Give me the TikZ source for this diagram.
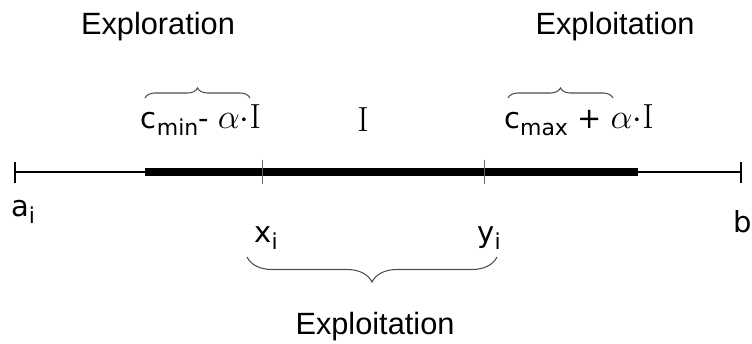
\documentclass[tikz,border=0pt]{standalone}
\usepackage{graphicx}
\usepackage[no-math]{fontspec}
\setmainfont{Liberation Sans}
\newfontfamily\labelfont{DejaVu Sans}
\newcommand{\lowsub}[1]{\raisebox{-0.45ex}{\fontsize{12.5}{12.5}\selectfont #1}}
\newcommand{\serifpart}[1]{\scalebox{1.15}{$#1$}}
\usetikzlibrary{decorations.pathreplacing, positioning}

\begin{document}
\begin{tikzpicture}[x=0.02cm, y=-0.02cm,
    every node/.style={font=\labelfont\fontsize{16.5}{19}\selectfont, inner sep=1pt},
    heading/.style={font=\fontsize{17.5}{21}\selectfont},
    bound/.style={line width=0.8pt},
    tickmark/.style={line width=0.5pt, black!60},
    bracetop/.style={decorate, decoration={brace, amplitude=0.2cm}, black!70, line width=0.6pt},
    bracebot/.style={decorate, decoration={brace, amplitude=0.5cm}, black!70, line width=0.6pt}
  ]
  \useasboundingbox (0,0) rectangle (752,344);

  \coordinate (a) at (15,172);
  \coordinate (b) at (741,172);
  \coordinate (lo) at (145,172);
  \coordinate (hi) at (638,172);
  \coordinate (x) at (262,172);
  \coordinate (y) at (484,172);

  % the interval
  \draw[bound] (a) -- (b);
  \draw[line width=4pt] (lo) -- (hi);
  \draw[bound] (a) ++(0,-10) -- ++(0,21);
  \draw[bound] (b) ++(0,-10) -- ++(0,21);
  \draw[tickmark] (x) ++(0,-12) -- ++(0,24);
  \draw[tickmark] (y) ++(0,-12) -- ++(0,24);

  \node (ai) at (23,212) {a\lowsub{i}};
  \node (xi) at (266,238) {x\lowsub{i}};
  \node (yi) at (489,238) {y\lowsub{i}};
  \node[anchor=east, inner sep=0pt] (bi) at (752,222) {b};

  \node (cmin) at (201,120) {c\lowsub{min}- \serifpart{\alpha{\cdot}\mathrm{I}}};
  \node (len) at (363,120) {\serifpart{\mathrm{I}}};
  \node (cmax) at (579,120) {c\lowsub{max} + \serifpart{\alpha{\cdot}\mathrm{I}}};

  \draw[bracetop] (145,98) -- (250,98);
  \draw[bracetop] (508,98) -- (613,98);
  \draw[bracebot] (497,257) -- (247,257);

  \node[heading] (explore) at (158,27) {Exploration};
  \node[heading] (exploit) at (615,27) {Exploitation};
  \node[heading] (inner) at (375,327) {Exploitation};
\end{tikzpicture}
\end{document}
